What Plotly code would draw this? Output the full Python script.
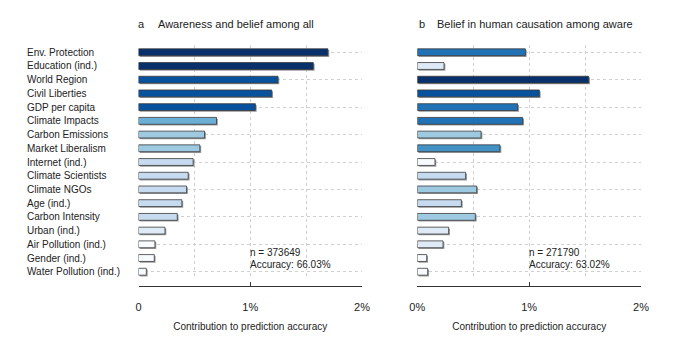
import plotly.graph_objects as go

categories = ["Env. Protection", "Education (ind.)", "World Region", "Civil Liberties",
              "GDP per capita", "Climate Impacts", "Carbon Emissions", "Market Liberalism",
              "Internet (ind.)", "Climate Scientists", "Climate NGOs", "Age (ind.)",
              "Carbon Intensity", "Urban (ind.)", "Air Pollution (ind.)", "Gender (ind.)",
              "Water Pollution (ind.)"]

awareness_all = [1.695, 1.564, 1.248, 1.192, 1.046, 0.698, 0.591, 0.549, 0.489, 0.445,
                 0.430, 0.388, 0.347, 0.237, 0.147, 0.141, 0.070]
belief_aware = [0.966, 0.239, 1.532, 1.091, 0.897, 0.942, 0.570, 0.739, 0.158, 0.432,
                0.531, 0.394, 0.519, 0.280, 0.230, 0.084, 0.093]

colors_a = ["#08306b", "#08306b", "#08519c", "#08519c", "#08519c", "#6baed6", "#9ecae1",
            "#9ecae1", "#c6dbef", "#c6dbef", "#c6dbef", "#c6dbef", "#c6dbef", "#deebf7",
            "#f7fbff", "#f7fbff", "#f7fbff"]
colors_b = ["#2171b5", "#deebf7", "#08306b", "#08519c", "#2171b5", "#2171b5", "#9ecae1",
            "#4292c6", "#f7fbff", "#c6dbef", "#9ecae1", "#c6dbef", "#9ecae1", "#deebf7",
            "#deebf7", "#f7fbff", "#f7fbff"]

panel_letters = ["a", "b"]
panel_titles = ["Awareness and belief among all", "Belief in human causation among aware"]
n_texts = ["n = 373649", "n = 271790"]
acc_texts = ["Accuracy: 66.03%", "Accuracy: 63.02%"]
tick_texts_a = ["0", "1%", "2%"]
tick_texts_b = ["0%", "1%", "2%"]
tick_vals = [0, 1, 2]

W, H = 675, 338
font = "Liberation Sans, Arial, Helvetica, sans-serif"
TXT = "#222222"

fig = go.Figure()
for vals, cols, xa, ya in [(awareness_all, colors_a, "x", "y"), (belief_aware, colors_b, "x2", "y2")]:
    # soft shadow under each bar
    fig.add_trace(go.Bar(x=vals, y=categories, orientation="h", width=0.5, offset=-0.16,
                         base=0.012, marker=dict(color="#9c9c9c", line=dict(width=0)),
                         xaxis=xa, yaxis=ya, showlegend=False, hoverinfo="skip"))
    fig.add_trace(go.Bar(x=vals, y=categories, orientation="h", width=0.5, offset=-0.25,
                         marker=dict(color=cols, line=dict(color="#3a3a3a", width=0.8)),
                         xaxis=xa, yaxis=ya, showlegend=False))

ytop, ybot = 45.4, 278.6
ydom = [1 - ybot / H, 1 - ytop / H]
axis_pos = 1 - 286 / H
xdom1 = [138.5 / W, 362.0 / W]
xdom2 = [417.3 / W, 641.0 / W]

grid_c = "#cfcfcf"
common_x = dict(range=[0, 2], tickvals=tick_vals, ticks="inside", ticklen=4,
                tickcolor="#333", showline=True, linecolor="#333", linewidth=1,
                showgrid=True, gridcolor=grid_c, griddash="dot", gridwidth=1,
                minor=dict(dtick=0.5, showgrid=True, gridcolor=grid_c, griddash="dot", gridwidth=1),
                zeroline=False, anchor="free", position=axis_pos, automargin=False,
                tickfont=dict(size=11, color=TXT, family=font),
                title=dict(text="Contribution to prediction accuracy",
                           font=dict(size=10, color=TXT, family=font), standoff=10),
                ticklabelstandoff=11, fixedrange=True)
common_y = dict(type="category", categoryorder="array", categoryarray=categories,
                range=[len(categories) - 0.5, -0.5], showticklabels=False, ticks="",
                showgrid=True, gridcolor=grid_c, griddash="dot", gridwidth=1, automargin=False,
                zeroline=False, showline=False, domain=ydom, fixedrange=True)

fig.update_layout(
    width=W, height=H, margin=dict(l=0, r=0, t=0, b=0, pad=0, autoexpand=False),
    paper_bgcolor="white", plot_bgcolor="white", barmode="overlay",
    font=dict(family=font, color=TXT),
    xaxis=dict(domain=xdom1, ticktext=tick_texts_a, **common_x),
    xaxis2=dict(domain=xdom2, ticktext=tick_texts_b, **common_x),
    yaxis=dict(anchor="x", **common_y),
    yaxis2=dict(anchor="x2", **common_y),
)

ann = []
for c in categories:
    ann.append(dict(x=25 / W, xref="paper", y=c, yref="y", text=c, showarrow=False,
                    xanchor="left", yanchor="middle", font=dict(size=10, color=TXT, family=font)))
title_x = [(136.3, 155.7), (416.7, 434.7)]
for i in range(2):
    ann.append(dict(x=title_x[i][0] / W, xref="paper", y=1 - 24 / H, yref="paper",
                    text=panel_letters[i], showarrow=False, xanchor="left", yanchor="middle",
                    font=dict(size=11, color=TXT, family=font)))
    ann.append(dict(x=title_x[i][1] / W, xref="paper", y=1 - 24 / H, yref="paper",
                    text=panel_titles[i], showarrow=False, xanchor="left", yanchor="middle",
                    font=dict(size=11, color=TXT, family=font)))
    xr = "x" if i == 0 else "x2"
    ann.append(dict(x=1, xref=xr, xshift=-2, y=1 - 252 / H, yref="paper", text=n_texts[i],
                    showarrow=False, xanchor="left", yanchor="middle",
                    font=dict(size=10, color=TXT, family=font)))
    ann.append(dict(x=1, xref=xr, xshift=-2, y=1 - 264.5 / H, yref="paper", text=acc_texts[i],
                    showarrow=False, xanchor="left", yanchor="middle",
                    font=dict(size=10, color=TXT, family=font)))
fig.update_layout(annotations=ann)

fig.write_html("out.html")
